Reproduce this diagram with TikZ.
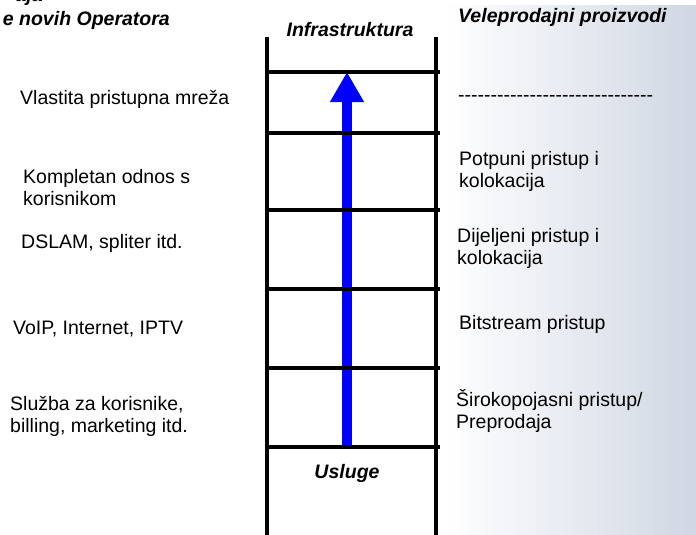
\documentclass[tikz,border=0pt]{standalone}
\usepackage{fontspec}
\setmainfont{Liberation Sans}
\usetikzlibrary{arrows.meta}
\definecolor{sidegray}{RGB}{208,215,227}
\definecolor{ladderblue}{RGB}{0,0,255}
\tikzset{
  rail/.style={line width=4pt},
  txt/.style={anchor=west, align=left, inner sep=0pt, font=\fontsize{19.5}{22}\selectfont},
  head/.style={inner sep=0pt, font=\fontsize{19.5}{22}\selectfont\bfseries\itshape}
}
\begin{document}
\begin{tikzpicture}[x=1pt,y=-1pt]
	\useasboundingbox (0,0) rectangle (696,535);
	\clip (0,0) rectangle (696,535);
	\begin{scope}[y=1pt]
		\shade [left color=white, right color=sidegray] (444,-535) rectangle (696,-6);
	\end{scope}

	\node [head, anchor=base east] (cut) at (43,2) {aja};
	\node [head, anchor=east] (operatori) at (170,20) {e novih Operatora};
	\node [head] (infra) at (350,30) {Infrastruktura};
	\node [head, anchor=west] (veleprodaja) at (458,17) {Veleprodajni proizvodi};
	\node [head] (usluge) at (347,473) {Usluge};

	\coordinate (start) at (347,445);
	\coordinate (tip) at (347,72);
	\draw [ladderblue, line width=10pt, -{Triangle[length=30pt, width=32pt]}] (start) -- (tip);

	\draw [rail] (267,37) -- (267,535);
	\draw [rail] (436,37) -- (436,535);
	\foreach \y in {72,133,210,289,368,447}
		\draw [rail] (267,\y) -- (440,\y);

	\node [txt] (mreza) at (20,99) {Vlastita pristupna mreža};
	\node [txt] (odnos) at (23,188) {Kompletan odnos s\\korisnikom};
	\node [txt] (dslam) at (21,243) {DSLAM, spliter itd.};
	\node [txt] (voip) at (13,329) {VoIP, Internet, IPTV};
	\node [txt] (sluzba) at (10,416) {Služba za korisnike,\\billing, marketing itd.};

	\node [txt] (crte) at (458,99) {-{}-{}-{}-{}-{}-{}-{}-{}-{}-{}-{}-{}-{}-{}-{}-{}-{}-{}-{}-{}-{}-{}-{}-{}-{}-{}-{}-{}-{}-};
	\node [txt] (potpuni) at (459,171) {Potpuni pristup i\\kolokacija};
	\node [txt] (dijeljeni) at (457,248) {Dijeljeni pristup i\\kolokacija};
	\node [txt] (bitstream) at (459,324) {Bitstream pristup};
	\node [txt] (siroko) at (456,411) {Širokopojasni pristup/\\Preprodaja};
\end{tikzpicture}
\end{document}
